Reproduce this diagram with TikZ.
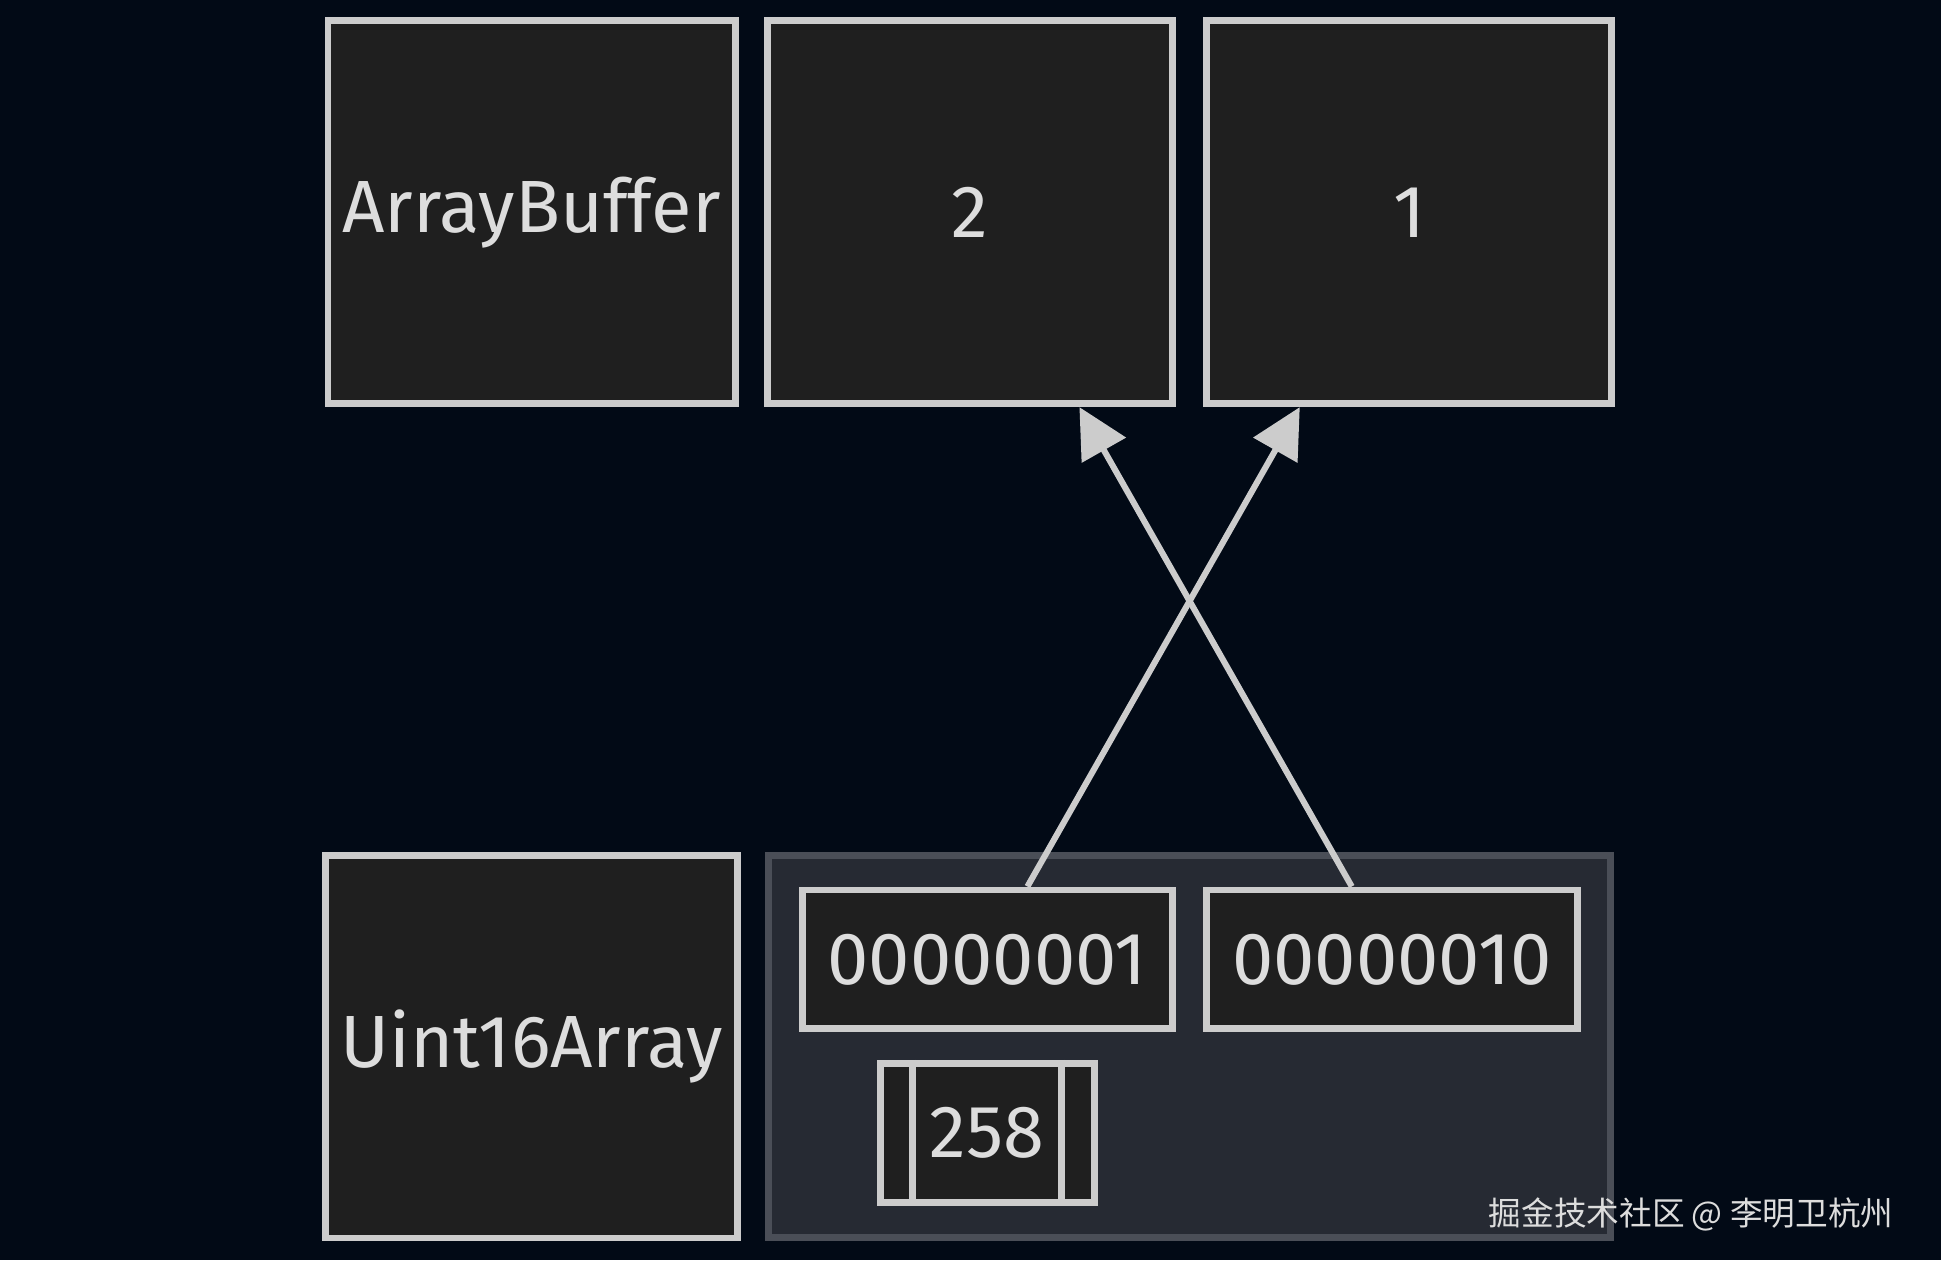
\documentclass[tikz,border=0pt]{standalone}
\usepackage{fontspec}
\setmainfont{Fira Sans}
\newfontfamily\cjk{Noto Sans CJK SC}
\usetikzlibrary{arrows.meta,positioning}
\definecolor{bgdark}{HTML}{020A16}
\definecolor{boxfill}{HTML}{1F1F1F}
\definecolor{boxline}{HTML}{CCCCCC}
\definecolor{groupfill}{HTML}{262A33}
\definecolor{groupline}{HTML}{4A4E57}
\definecolor{txt}{HTML}{DDDDDD}
\tikzset{
  bigbox/.style={draw=boxline, line width=1.6pt, fill=boxfill, text=txt,
    minimum width=3.27cm, minimum height=3.09cm, font=\fontsize{17}{20}\selectfont},
  bytebox/.style={draw=boxline, line width=1.6pt, fill=boxfill, text=txt,
    minimum width=2.99cm, minimum height=1.12cm, font=\fontsize{17}{20}\selectfont},
  link/.style={draw=boxline, line width=1.4pt, -{Triangle[length=0.4cm,width=0.4cm]}}
}
\begin{document}
\begin{tikzpicture}[x=0.01cm,y=-0.01cm]
  \fill[bgdark] (0,0) rectangle (1568,1018);
  \useasboundingbox (0,0) rectangle (1568,1018);
  % top row
  \node[bigbox] (buffer) at (429.5,171.5) {ArrayBuffer};
  \node[bigbox] (two) at (783.5,171.5) {2};
  \node[bigbox] (one) at (1138.5,171.5) {1};
  % bottom row
  \node[bigbox] (uint) at (429.5,845.5) {Uint16Array};
  \draw[groupline, fill=groupfill, line width=1.6pt] (621,691) rectangle (1301,1000);
  \node[bytebox] (low) at (797.5,775) {00000001};
  \node[bytebox] (high) at (1124.5,775) {00000010};
  \node[draw=boxline, line width=1.6pt, fill=boxfill, text=txt,
    minimum width=1.73cm, minimum height=1.12cm,
    font=\fontsize{17}{20}\selectfont] (value) at (797.5,915) {258};
  \draw[boxline, line width=1.6pt] ([xshift=0.29cm]value.north west) -- ([xshift=0.29cm]value.south west);
  \draw[boxline, line width=1.6pt] ([xshift=-0.29cm]value.north east) -- ([xshift=-0.29cm]value.south east);
  % connectors
  \path[link] (low.north -| 830,0) -- (one.south -| 1050,0);
  \path[link] (high.north -| 1092,0) -- (two.south -| 872,0);
  \node[text=txt, font=\cjk\fontsize{7.5}{9}\selectfont, anchor=east] (mark) at (1542,981) {掘金技术社区 @ 李明卫杭州};
\end{tikzpicture}
\end{document}
